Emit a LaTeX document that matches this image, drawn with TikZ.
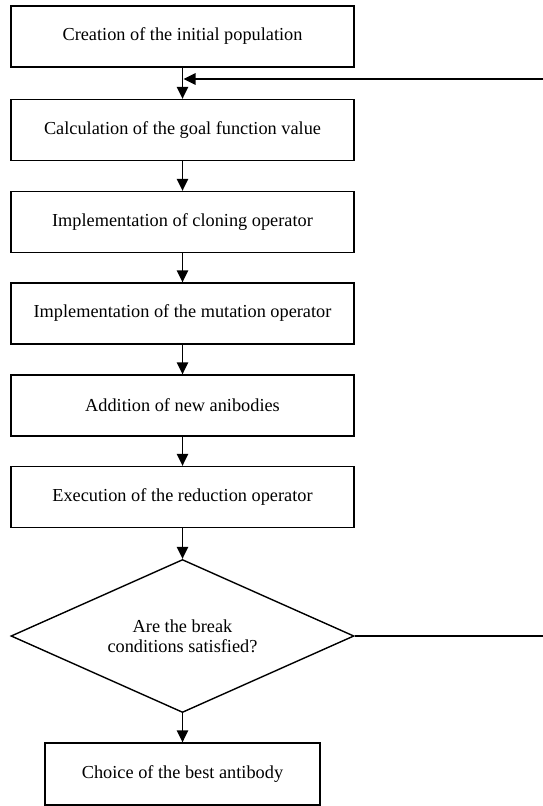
\documentclass[tikz,border=0pt]{standalone}
\usepackage{fontspec}
\setmainfont{Liberation Serif}
\usetikzlibrary{shapes.geometric,arrows.meta}
\begin{document}
\begin{tikzpicture}[x=1pt,y=-1pt,
  every node/.style={font=\fontsize{18.3}{20}\selectfont},
  procbox/.style={draw,line width=1.4pt,rectangle,minimum width=343pt,minimum height=61pt,inner sep=0pt},
  decbox/.style={draw,line width=1.4pt,diamond,aspect=2.24,minimum width=343pt,minimum height=153pt,inner sep=0pt,align=center},
  flow/.style={line width=1.4pt,-{Triangle[length=12pt,width=11.5pt]}},
  plain/.style={line width=1.4pt}]
\useasboundingbox (0,0) rectangle (543,806);
\node[procbox] (b1) at (182.5,36.5) {Creation of the initial population};
\node[procbox] (b2) at (182.5,130) {Calculation of the goal function value};
\node[procbox] (b3) at (182.5,222) {Implementation of cloning operator};
\node[procbox] (b4) at (182.5,313.5) {Implementation of the mutation operator};
\node[procbox] (b5) at (182.5,405.5) {Addition of new anibodies};
\node[procbox] (b6) at (182.5,497) {Execution of the reduction operator};
\node[decbox] (d) at (182.5,636) {Are the break\\conditions satisfied?};
\node[procbox,minimum width=275pt,minimum height=62pt] (b7) at (182.5,774) {Choice of the best antibody};
\draw[flow] (b1) -- (b2);
\draw[flow] (b2) -- (b3);
\draw[flow] (b3) -- (b4);
\draw[flow] (b4) -- (b5);
\draw[flow] (b5) -- (b6);
\draw[flow] (b6) -- (d);
\draw[flow] (d) -- (b7);
\coordinate (rr) at (543,636);
\coordinate (rt) at (543,79);
\coordinate (j) at (183.5,79);
\draw[plain] (d.east) -- (rr);
\draw[flow] (rt) -- (j);
\end{tikzpicture}
\end{document}
